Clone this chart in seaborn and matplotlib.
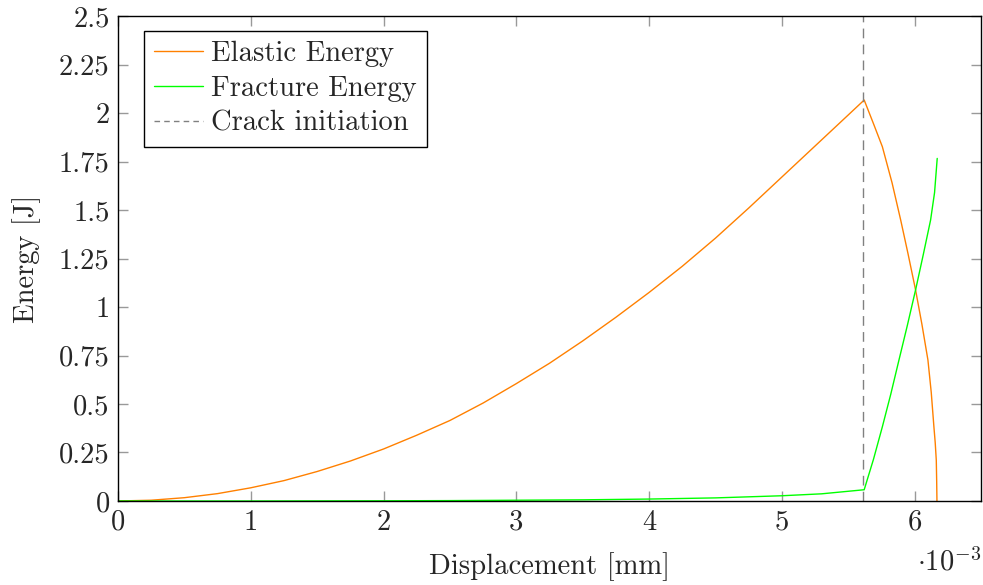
import numpy as np
import pandas as pd
import matplotlib
matplotlib.use("Agg")
import matplotlib.pyplot as plt
from matplotlib.ticker import FuncFormatter
from matplotlib.lines import Line2D
import seaborn as sns

# Displacement in units of 1e-3 mm, energies in J
elastic_disp = [0.0, 0.25, 0.5, 0.75, 1.0, 1.25, 1.5, 1.75, 2.0, 2.25, 2.5, 2.75, 3.0,
                3.25, 3.5, 3.75, 4.0, 4.25, 4.5, 4.75, 5.0, 5.25, 5.5, 5.62,
                5.69, 5.757, 5.83, 5.895, 5.95, 6.007, 6.055, 6.10, 6.125, 6.145,
                6.155, 6.163, 6.166, 6.168]
elastic_energy = [0.0, 0.004, 0.017, 0.038, 0.068, 0.105, 0.152, 0.206, 0.268, 0.339, 0.415, 0.505, 0.605,
                  0.710, 0.825, 0.947, 1.075, 1.210, 1.355, 1.510, 1.670, 1.830, 1.990, 2.067,
                  1.945, 1.826, 1.640, 1.448, 1.275, 1.088, 0.910, 0.727, 0.560, 0.383,
                  0.300, 0.210, 0.100, 0.0]

fracture_disp = [0.0, 1.0, 2.0, 2.5, 3.0, 3.5, 4.0, 4.5, 5.0, 5.3, 5.62,
                 5.69, 5.757, 5.82, 5.882, 5.945, 6.007, 6.065, 6.12, 6.15, 6.17]
fracture_energy = [0.0, 0.0, 0.001, 0.002, 0.004, 0.006, 0.010, 0.016, 0.027, 0.037, 0.058,
                   0.215, 0.383, 0.550, 0.727, 0.905, 1.088, 1.270, 1.448, 1.590, 1.766]

crack_initiation = 5.61

x_ticks = [0, 1, 2, 3, 4, 5, 6]
y_ticks = [0, 0.25, 0.5, 0.75, 1, 1.25, 1.5, 1.75, 2, 2.25, 2.5]

ORANGE = (1.0, 0.5, 0.0)
GREEN = (0.0, 1.0, 0.0)
GRAY = (0.5, 0.5, 0.5)
FS = 20.6

sns.set_theme(style="ticks")
plt.rcParams.update({
    "font.family": "serif",
    "font.serif": ["cmr10"],
    "mathtext.fontset": "cm",
    "axes.unicode_minus": False,
    "axes.formatter.use_mathtext": True,
    "font.size": FS,
})

fig = plt.figure(figsize=(9.83, 5.85), dpi=100)
ax = fig.add_axes([0.120, 0.1436, 0.878, 0.829])

el = pd.DataFrame({"disp": elastic_disp, "energy": elastic_energy})
fr = pd.DataFrame({"disp": fracture_disp, "energy": fracture_energy})

sns.lineplot(data=el, x="disp", y="energy", ax=ax, color=ORANGE, lw=1.0,
             sort=False, estimator=None)
sns.lineplot(data=fr, x="disp", y="energy", ax=ax, color=GREEN, lw=1.0,
             sort=False, estimator=None)
ax.axvline(crack_initiation, color=GRAY, lw=1.0, ls=(0, (7, 4.5)))

ax.set_xlim(0, 6.5)
ax.set_ylim(0, 2.5)
ax.set_xticks(x_ticks)
ax.set_yticks(y_ticks)
ax.xaxis.set_major_formatter(FuncFormatter(lambda v, p: f"{v:g}"))
ax.yaxis.set_major_formatter(FuncFormatter(lambda v, p: f"{v:g}"))
ax.tick_params(axis="both", direction="in", length=7, width=1.0, color=(0.6, 0.6, 0.6),
               top=True, right=True, labelsize=FS, pad=6)
for s in ax.spines.values():
    s.set_color("black")
    s.set_linewidth(1.0)

ax.set_xlabel("Displacement [mm]", fontsize=FS, labelpad=12)
ax.set_ylabel("Energy [J]", fontsize=FS, labelpad=13)
ax.text(1.0, -0.125, r"$\cdot10^{-3}$", transform=ax.transAxes, ha="right", va="center",
        fontsize=FS)

handles = [Line2D([], [], color=ORANGE, lw=1.0),
           Line2D([], [], color=GREEN, lw=1.0),
           Line2D([], [], color=GRAY, lw=1.0, ls=(0, (4, 3)))]
labels = ["Elastic Energy", "Fracture Energy", "Crack initiation"]
leg = ax.legend(handles, labels, loc="upper left", bbox_to_anchor=(0.03, 0.97),
                frameon=True, fancybox=False, edgecolor="black", framealpha=1,
                handlelength=1.7, handletextpad=0.3, borderpad=0.35, labelspacing=0.3,
                fontsize=FS, borderaxespad=0)
leg.get_frame().set_linewidth(1.0)

fig.savefig("out.png", dpi=100)
